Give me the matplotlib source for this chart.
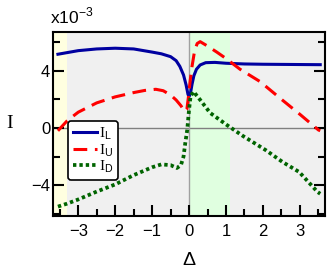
import numpy as np
import matplotlib
matplotlib.use("Agg")
import matplotlib.pyplot as plt
from matplotlib.ticker import MultipleLocator

plt.rcParams['font.family'] = ['Liberation Sans', 'DejaVu Sans']
plt.rcParams['mathtext.fontset'] = 'custom'
plt.rcParams['mathtext.rm'] = 'Liberation Serif'
plt.rcParams['mathtext.sf'] = 'Liberation Sans'

# values in units of 1e-3
xl = [-3.55, -3.0, -2.5, -2.0, -1.5, -1.0, -0.75, -0.5, -0.35, -0.25, -0.15, -0.08,
      -0.03, 0.0, 0.04, 0.08, 0.13, 0.2, 0.3, 0.45, 0.7, 1.0, 1.5, 2.0, 2.5, 3.0, 3.55]
il = [5.15, 5.40, 5.52, 5.57, 5.52, 5.30, 5.18, 4.98, 4.70, 4.30, 3.70, 3.00,
      2.35, 2.19, 2.45, 3.05, 3.65, 4.10, 4.40, 4.56, 4.58, 4.52, 4.47, 4.45, 4.44, 4.43, 4.42]

xu = [-3.55, -3.3, -3.0, -2.5, -2.0, -1.5, -1.2, -0.9, -0.7, -0.5, -0.35, -0.22,
      -0.12, -0.06, -0.02, 0.03, 0.08, 0.15, 0.22, 0.3, 0.5, 0.75, 1.0, 1.38, 1.92,
      2.5, 3.0, 3.5, 3.55]
iu = [-0.2, 0.5, 1.1, 1.75, 2.17, 2.47, 2.62, 2.70, 2.60, 2.30, 1.95, 1.55,
      1.15, 1.3, 2.1, 3.3, 4.3, 5.4, 5.9, 6.03, 5.72, 5.3, 4.85, 4.1, 3.24,
      2.0, 0.95, -0.14, -0.2]

xd = [-3.55, -3.3, -3.0, -2.5, -2.0, -1.5, -1.0, -0.75, -0.5, -0.33, -0.22, -0.15,
      -0.1, -0.05, 0.0, 0.04, 0.12, 0.3, 0.57, 1.02, 1.45, 2.08, 2.53, 2.98, 3.48, 3.55]
idd = [-5.5, -5.29, -5.0, -4.45, -3.95, -3.3, -2.75, -2.55, -2.6, -2.8, -2.6, -2.0,
       -1.0, -0.14, 1.3, 2.2, 2.54, 1.96, 1.05, 0.21, -0.55, -1.56, -2.38, -3.08, -4.48, -4.6]

fig = plt.figure(figsize=(3.32, 2.74), dpi=100)
ax = fig.add_axes([0.16, 0.212, 0.819, 0.671])
ax.set_facecolor('#f0f0f0')

ax.axvspan(-3.7, -3.3, color='#ffffe0', lw=0, zorder=0)
ax.axvspan(0, 1.1, color='#e0ffe0', lw=0, zorder=0)
ax.axhline(0, color='#808080', lw=1, zorder=1)
ax.axvline(0, color='#a0a0a0', lw=1, zorder=1)

ax.plot(xl, il, color='#0000a0', lw=2.2, label=r'$\mathrm{I}_\mathsf{L}$', zorder=3)
ax.plot(xu, iu, color='#ff0000', lw=2.2, dashes=(4.5, 2.5), label=r'$\mathrm{I}_\mathsf{U}$', zorder=3)
ax.plot(xd, idd, color='#006400', lw=2.7, dashes=(0.9, 0.8), label=r'$\mathrm{I}_\mathsf{D}$', zorder=3)

ax.set_xlim(-3.68, 3.68)
ax.set_ylim(-6.15, 6.7)
ax.xaxis.set_major_locator(MultipleLocator(1))
ax.xaxis.set_minor_locator(MultipleLocator(0.5))
ax.yaxis.set_major_locator(MultipleLocator(4))
ax.yaxis.set_minor_locator(MultipleLocator(2))

ax.tick_params(which='both', direction='in', width=1.5, right=True, top=False, labelsize=12)
ax.tick_params(which='major', length=8)
ax.tick_params(which='minor', length=5)
ax.tick_params(axis='x', pad=6)
ax.tick_params(axis='y', pad=2)
for s in ax.spines.values():
    s.set_linewidth(1.5)

ax.set_xlabel('Δ', fontsize=14, labelpad=9)
ax.set_ylabel('I', fontsize=14, family='Liberation Serif', rotation=0, labelpad=16, va='center')
fig.text(0.15, 0.94, r'x10$^{\mathsf{-3}}$', fontsize=12.5, ha='left', va='center')

leg = ax.legend(loc='lower left', bbox_to_anchor=(0.055, 0.196), borderaxespad=0,
                fontsize=11, handlelength=1.6, handletextpad=0.1, labelspacing=0.0,
                borderpad=0.3, fancybox=True, framealpha=1, facecolor='white')
leg.get_frame().set_edgecolor('black')
leg.get_frame().set_linewidth(1.2)

fig.savefig('out.png', dpi=100)
